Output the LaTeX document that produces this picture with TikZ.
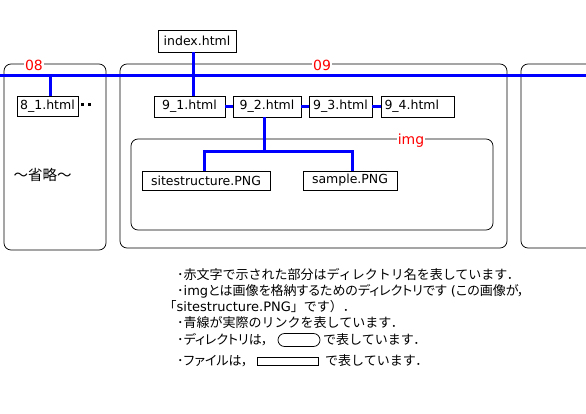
\documentclass[tikz,border=0pt]{standalone}
\usepackage{fontspec}
\newfontfamily\jp{Noto Sans CJK JP}
\newfontfamily\jpp[RawFeature=+palt]{Noto Sans CJK JP}
\newfontfamily\dv{DejaVu Sans}
\begin{document}
\begin{tikzpicture}[x=1pt,y=-1pt,
  fbox/.style={draw, line width=0.75pt, inner sep=0pt, minimum height=20pt, font=\dv\fontsize{12.5}{13}\selectfont},
  dirbox/.style={draw, line width=0.75pt, rounded corners=7pt},
  dirlabel/.style={text=red, fill=white, inner xsep=1pt, inner ysep=0pt, font=\dv\fontsize{14}{14}\selectfont},
  link/.style={draw=blue, line width=3pt},
  note/.style={anchor=west, inner sep=0pt, font=\jp\fontsize{13}{13}\selectfont},
  notep/.style={anchor=west, inner sep=0pt, font=\jpp\fontsize{13}{13}\selectfont},
  keybox/.style={draw, line width=0.75pt, inner sep=0pt}]
\useasboundingbox (0,0) rectangle (586,414);
\fill[white] (0,0) rectangle (586,414);
% directories
\draw[dirbox] (4,64) rectangle (106,250);
\draw[dirbox] (120,64) rectangle (507,248);
\draw[dirbox] (521,64) rectangle (620,248);
\draw[dirbox] (131,139) rectangle (493,230);
\node[dirlabel] (l08) at (34,65) {08};
\node[dirlabel] (l09) at (322,65) {09};
\node[dirlabel, anchor=base] (limg) at (411,145) {img};
% bus
\coordinate (busL) at (0,76);
\coordinate (busR) at (586,76);
\draw[link] (busL) -- (busR);
% files
\node[fbox, minimum width=78pt, minimum height=22pt] (index) at (197,41) {index.html};
\node[fbox, minimum width=61pt] (n81) at (47.5,106) {8\_1.html};
\node[fbox, minimum width=71pt, minimum height=21pt] (n91) at (189.5,106.5) {9\_1.html};
\node[fbox, minimum width=68pt, minimum height=21pt] (n92) at (267,106.5) {9\_2.html};
\node[fbox, minimum width=63pt, minimum height=21pt] (n93) at (340.5,106.5) {9\_3.html};
\node[fbox, minimum width=73pt, minimum height=21pt, text width=66pt, align=left] (n94) at (417.5,106.5) {9\_4.html};
\node[fbox, minimum width=128pt, minimum height=19pt] (site) at (206,180.5) {sitestructure.PNG};
\node[fbox, minimum width=94pt, minimum height=19pt] (sample) at (350,180.5) {sample.PNG};
% dots
\fill (81,103) rectangle (84,106);
\fill (88,103) rectangle (91,106);
% links
\coordinate (v1) at (193,76);
\draw[link] (index.south -| v1) -- (n91.north -| v1);
\coordinate (v8) at (50,76);
\draw[link] (v8) -- (n81.north -| v8);
\draw[link] (n91.east) -- (n92.west);
\draw[link] (n92.east) -- (n93.west);
\draw[link] (n93.east) -- (n94.west);
\coordinate (v2) at (264,152);
\coordinate (hl) at (204,152);
\coordinate (hr) at (352,152);
\draw[link] (n92.south -| v2) -- (v2);
\draw[link] (site.north -| hl) -- (hl) -- (hr) -- (sample.north -| hr);
% omitted
\node[font=\jp\fontsize{14.5}{14.5}\selectfont, inner sep=0pt] (omit) at (42.5,175) {～省略～};
% notes
\node[note] (t1) at (177,275) {･赤文字で示された部分はディレクトリ名を表しています．};
\node[notep] (t2) at (177,291) {･{\dv img}とは画像を格納するためのディレクトリです{\dv\ (}この画像が，};
\node[note] (t3) at (170,307) {｢{\dv sitestructure.PNG}」です）．};
\node[note] (t4) at (177,323) {･青線が実際のリンクを表しています．};
\node[notep] (t5a) at (177,340) {･ディレクトリは，};
\node[keybox, rounded corners=6.5pt, minimum width=42pt, minimum height=13pt] (pill) at (299,340) {};
\node[note] (t5b) at (323,340) {で表しています．};
\node[notep] (t6a) at (177,361) {･ファイルは，};
\node[keybox, minimum width=61pt, minimum height=8pt] (keyrect) at (287.5,361) {};
\node[note] (t6b) at (325,361) {で表しています．};
\end{tikzpicture}
\end{document}
